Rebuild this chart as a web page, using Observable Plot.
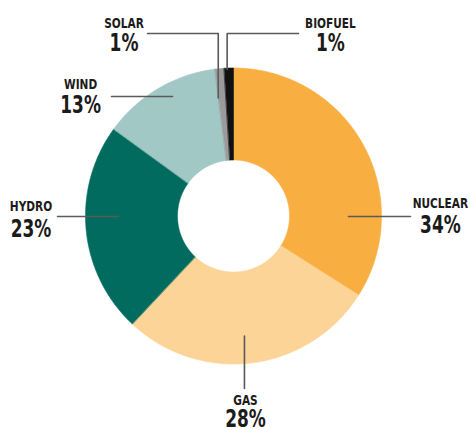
<!DOCTYPE html>
<html>
<head>
<meta charset="utf-8">
<script src="https://cdn.jsdelivr.net/npm/d3@7"></script>
<script src="https://cdn.jsdelivr.net/npm/@observablehq/plot@0.6"></script>
<style>
  html, body { margin: 0; padding: 0; background: #fff; }
  #chart { width: 470px; height: 430px; }
</style>
</head>
<body>
<div id="chart"></div>
<script>
// ---- data ----
const categories = ["NUCLEAR", "GAS", "HYDRO", "WIND", "SOLAR", "BIOFUEL"];
const shares = [34, 28, 23, 13, 1, 1];
const percentLabels = ["34%", "28%", "23%", "13%", "1%", "1%"];

// ---- styles / layout ----
const sliceColors = ["#F9AE42", "#FDD497", "#006B5E", "#A1C8C4", "#9B9B9B", "#111111"];
const W = 470, H = 430;
const CX = 233, CY = 215.5, R = 148;     // pixel center / outer radius
const INNER = 56 / 148;                  // inner radius in units of R
const NAME_SQUEEZE = 0.84, PCT_SQUEEZE = 0.77;   // condensed look

// label layout in units of R (x to the right, y upward, relative to center)
const labelLayout = {
  NUCLEAR: {x: 1.398, nameY: 0.054, pctY: -0.118},
  GAS:     {x: 0.081, nameY: -1.274, pctY: -1.424},
  HYDRO:   {x: -1.368, nameY: 0.034, pctY: -0.145},
  WIND:    {x: -1.033, nameY: 0.861, pctY: 0.699},
  SOLAR:   {x: -0.740, nameY: 1.270, pctY: 1.115},
  BIOFUEL: {x: 0.655, nameY: 1.270, pctY: 1.115}
};
const leaderLayout = {
  NUCLEAR: [[0.777, -0.003], [1.196, -0.003]],
  GAS:     [[0.074, -0.811], [0.074, -1.165]],
  HYDRO:   [[-1.189, -0.003], [-0.777, -0.003]],
  WIND:    [[-0.824, 0.807], [-0.412, 0.807]],
  SOLAR:   [[-0.581, 1.233], [-0.103, 1.233], [-0.103, 0.797]],
  BIOFUEL: [[0.439, 1.233], [-0.043, 1.233], [-0.043, 0.990]]
};

// ---- build slice polygons from the shares ----
const total = d3.sum(shares);
const polys = [];
let start = 0;
categories.forEach((c, i) => {
  const a0 = start, a1 = start + shares[i] / total * 2 * Math.PI;
  start = a1;
  const n = Math.max(4, Math.ceil((a1 - a0) / (Math.PI / 360)));
  for (let k = 0; k <= n; k++) {
    const a = a0 + (a1 - a0) * k / n;
    polys.push({name: c, x: Math.sin(a), y: Math.cos(a)});
  }
  for (let k = n; k >= 0; k--) {
    const a = a0 + (a1 - a0) * k / n;
    polys.push({name: c, x: INNER * Math.sin(a), y: INNER * Math.cos(a)});
  }
});

const nameLabels = categories.map((c) => ({name: c, x: labelLayout[c].x, y: labelLayout[c].nameY}));
const pctLabels = categories.map((c, i) => ({name: c, text: percentLabels[i], x: labelLayout[c].x, y: labelLayout[c].pctY}));
const leaders = categories.flatMap((c) => leaderLayout[c].map(([x, y]) => ({name: c, x, y})));

const FONT = "'DejaVu Sans Condensed', 'Liberation Sans Narrow', sans-serif";

const chart = Plot.plot({
  width: W,
  height: H,
  margin: 0,
  x: {domain: [(0 - CX) / R, (W - CX) / R], axis: null},
  y: {domain: [(CY - H) / R, CY / R], axis: null},
  color: {domain: categories, range: sliceColors},
  style: {background: "#fff"},
  marks: [
    Plot.line(polys, {x: "x", y: "y", z: "name", fill: "name", stroke: "name", strokeWidth: 0.6, curve: "linear-closed"}),
    Plot.line(leaders, {x: "x", y: "y", z: "name", stroke: "#5a5a5a", strokeWidth: 1.6}),
    Plot.text(nameLabels, {x: "x", y: "y", text: "name", lineAnchor: "bottom", fontSize: 14, fontWeight: "bold", fontFamily: FONT, fill: "#1b1b1b", className: "name-label"}),
    Plot.text(pctLabels, {x: "x", y: "y", text: "text", lineAnchor: "bottom", fontSize: 24.5, fontWeight: "bold", fontFamily: FONT, fill: "#1b1b1b", className: "pct-label"})
  ]
});

// horizontally condense the labels (no narrow bold face is installed)
function squeeze(cls, s) {
  chart.querySelectorAll(`.${cls} text`).forEach((t) => {
    const tr = t.getAttribute("transform") || "";
    t.setAttribute("transform", `${tr} scale(${s},1)`);
  });
}
squeeze("name-label", NAME_SQUEEZE);
squeeze("pct-label", PCT_SQUEEZE);

document.getElementById("chart").appendChild(chart);
</script>
</body>
</html>
